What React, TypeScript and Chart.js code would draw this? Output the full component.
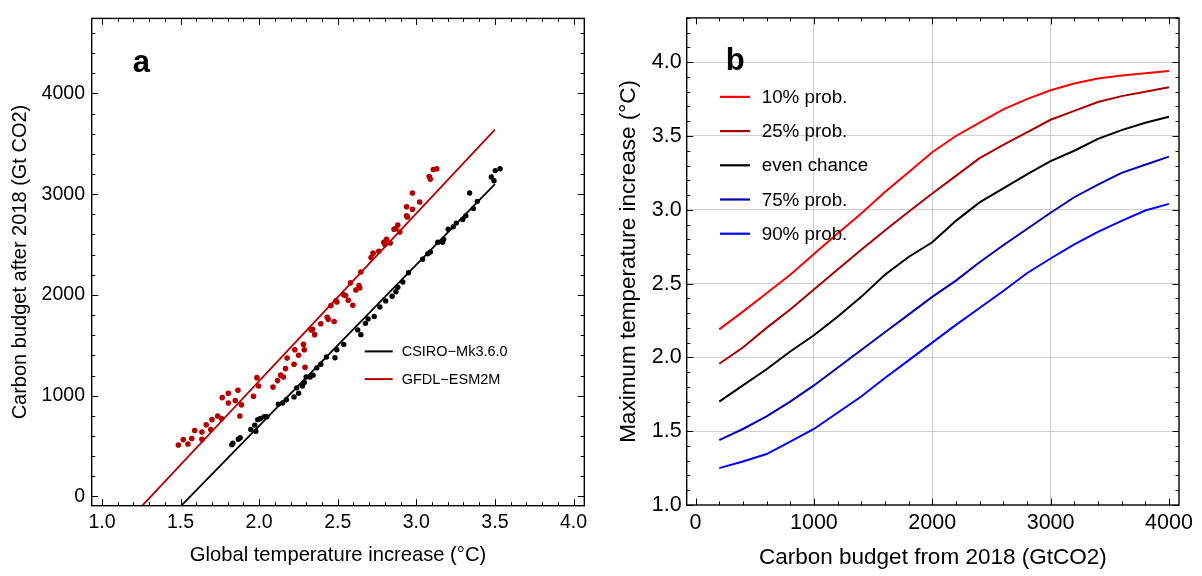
import React, { useEffect, useRef } from "react";
import { Chart, registerables } from "chart.js";

Chart.register(...registerables);

// ---------- Panel a data ----------
const CSIRO_T = [1.826, 1.833, 1.867, 1.879, 1.947, 1.972, 1.979, 1.991, 2.008, 2.032, 2.049, 2.122, 2.149, 2.173, 2.222, 2.239, 2.251, 2.275, 2.287, 2.299, 2.324, 2.343, 2.367, 2.392, 2.428, 2.482, 2.494, 2.538, 2.627, 2.647, 2.676, 2.693, 2.732, 2.768, 2.805, 2.846, 2.870, 2.882, 2.914, 2.950, 3.040, 3.072, 3.089, 3.137, 3.167, 3.174, 3.203, 3.235, 3.254, 3.295, 3.315, 3.339, 3.363, 3.388, 3.477, 3.494, 3.502, 3.533];
const CSIRO_B = [514, 528, 568, 582, 665, 708, 647, 762, 773, 791, 791, 916, 927, 960, 988, 1078, 1024, 1096, 1132, 1186, 1186, 1204, 1276, 1312, 1384, 1376, 1456, 1509, 1653, 1606, 1718, 1761, 1786, 1880, 1941, 1987, 2031, 2077, 2128, 2221, 2354, 2408, 2426, 2523, 2523, 2552, 2652, 2677, 2713, 2749, 2785, 3012, 2857, 2929, 3170, 3134, 3234, 3252];

const GFDL_T = [1.486, 1.517, 1.547, 1.571, 1.590, 1.636, 1.636, 1.663, 1.692, 1.700, 1.736, 1.760, 1.765, 1.804, 1.804, 1.848, 1.865, 1.877, 1.887, 1.964, 1.986, 1.996, 2.088, 2.117, 2.137, 2.154, 2.168, 2.178, 2.222, 2.227, 2.251, 2.282, 2.287, 2.292, 2.331, 2.340, 2.353, 2.392, 2.433, 2.440, 2.457, 2.477, 2.489, 2.495, 2.538, 2.550, 2.567, 2.581, 2.596, 2.615, 2.635, 2.640, 2.647, 2.712, 2.725, 2.761, 2.793, 2.800, 2.810, 2.834, 2.858, 2.870, 2.882, 2.895, 2.938, 2.943, 2.938, 2.975, 2.975, 3.021, 3.082, 3.089, 3.108, 3.130];
const GFDL_B = [510, 564, 521, 575, 654, 568, 640, 712, 665, 762, 798, 773, 981, 1024, 927, 952, 1053, 798, 909, 995, 1179, 1096, 1085, 1150, 1204, 1186, 1269, 1373, 1312, 1456, 1402, 1509, 1456, 1283, 1653, 1660, 1606, 1714, 1779, 1759, 1894, 1736, 1941, 1930, 2002, 1995, 1948, 2120, 1898, 2049, 2092, 2070, 2228, 2372, 2415, 2433, 2523, 2500, 2552, 2516, 2652, 2660, 2695, 2624, 2785, 2774, 2875, 3012, 2850, 2922, 3175, 3150, 3245, 3252];

const CSIRO_FIT_T = [1.45, 3.5];
const CSIRO_FIT_B = [-179, 3099];
const GFDL_FIT_T = [1.2, 3.5];
const GFDL_FIT_B = [-185, 3640];

const A_X_TICKS = [1.0, 1.5, 2.0, 2.5, 3.0, 3.5, 4.0];
const A_Y_TICKS = [0, 1000, 2000, 3000, 4000];

// ---------- Panel b data ----------
const BUDGET = [200, 400, 600, 800, 1000, 1200, 1400, 1600, 1800, 2000, 2200, 2400, 2600, 2800, 3000, 3200, 3400, 3600, 3800, 4000];
const P10 = [2.19, 2.31, 2.435, 2.56, 2.70, 2.84, 2.975, 3.12, 3.255, 3.39, 3.50, 3.59, 3.68, 3.75, 3.81, 3.855, 3.89, 3.91, 3.925, 3.94];
const P25 = [1.957, 2.067, 2.20, 2.325, 2.46, 2.595, 2.73, 2.86, 2.987, 3.11, 3.23, 3.35, 3.44, 3.525, 3.61, 3.67, 3.73, 3.77, 3.80, 3.83];
const P50 = [1.70, 1.81, 1.92, 2.04, 2.15, 2.275, 2.41, 2.56, 2.68, 2.78, 2.925, 3.05, 3.145, 3.24, 3.33, 3.40, 3.48, 3.54, 3.59, 3.63];
const P75 = [1.44, 1.515, 1.60, 1.70, 1.81, 1.93, 2.05, 2.17, 2.29, 2.41, 2.52, 2.645, 2.76, 2.87, 2.98, 3.085, 3.17, 3.25, 3.305, 3.36];
const P90 = [1.25, 1.295, 1.345, 1.43, 1.515, 1.625, 1.735, 1.86, 1.98, 2.10, 2.22, 2.335, 2.45, 2.57, 2.67, 2.765, 2.85, 2.925, 2.995, 3.04];

const B_X_TICKS = [0, 1000, 2000, 3000, 4000];
const B_Y_TICKS = [1.0, 1.5, 2.0, 2.5, 3.0, 3.5, 4.0];

const FONT = "'Liberation Sans', Arial, Helvetica, sans-serif";

const pts = (xs: number[], ys: number[]) => xs.map((x, i) => ({ x, y: ys[i] }));

const framePlugin = {
  id: "frameTicks",
  afterDraw(chart: any, _args: any, opts: any) {
    const { ctx, chartArea } = chart;
    const { left, right, top, bottom } = chartArea;
    const xs = chart.scales.x;
    const ys = chart.scales.y;
    ctx.save();
    ctx.strokeStyle = "#000";
    ctx.lineWidth = 1;
    const majorLen = 6.5;
    const minorLen = 3.5;
    const isMajor = (v: number, majors: number[]) => majors.some((m) => Math.abs(m - v) < 1e-6);
    const x0 = Math.ceil((xs.min - 1e-9) / opts.xMinor) * opts.xMinor;
    for (let v = x0; v <= xs.max + 1e-9; v += opts.xMinor) {
      const vv = Math.round(v / opts.xMinor) * opts.xMinor;
      const p = Math.round(xs.getPixelForValue(vv)) + 0.5;
      const len = isMajor(vv, opts.xMajor) ? majorLen : minorLen;
      ctx.beginPath();
      ctx.moveTo(p, bottom);
      ctx.lineTo(p, bottom - len);
      ctx.moveTo(p, top);
      ctx.lineTo(p, top + len);
      ctx.stroke();
    }
    const y0 = Math.ceil((ys.min - 1e-9) / opts.yMinor) * opts.yMinor;
    for (let v = y0; v <= ys.max + 1e-9; v += opts.yMinor) {
      const vv = Math.round(v / opts.yMinor) * opts.yMinor;
      const p = Math.round(ys.getPixelForValue(vv)) + 0.5;
      const len = isMajor(vv, opts.yMajor) ? majorLen : minorLen;
      ctx.beginPath();
      ctx.moveTo(left, p);
      ctx.lineTo(left + len, p);
      ctx.moveTo(right, p);
      ctx.lineTo(right - len, p);
      ctx.stroke();
    }
    ctx.lineWidth = 1.4;
    ctx.strokeRect(left, top, right - left, bottom - top);

    ctx.fillStyle = "#000";
    ctx.font = `bold ${opts.letterSize}px ${FONT}`;
    ctx.textAlign = "left";
    ctx.textBaseline = "alphabetic";
    ctx.fillText(opts.letter, left + opts.letterDx, top + opts.letterDy);

    const lg = opts.legend;
    ctx.font = `${lg.size}px ${FONT}`;
    ctx.textBaseline = "middle";
    let row = 0;
    chart.data.datasets.forEach((ds: any) => {
      if (!ds.inLegend) return;
      const yy = top + lg.dy + row * lg.step;
      ctx.strokeStyle = ds.borderColor;
      ctx.lineWidth = lg.lineWidth;
      ctx.beginPath();
      ctx.moveTo(left + lg.x1, yy);
      ctx.lineTo(left + lg.x2, yy);
      ctx.stroke();
      ctx.fillStyle = "#000";
      ctx.fillText(ds.label, left + lg.tx, yy + 1);
      row++;
    });
    ctx.restore();
  },
};

function PanelA() {
  const ref = useRef<HTMLCanvasElement>(null);
  useEffect(() => {
    const chart = new Chart(ref.current as HTMLCanvasElement, {
      type: "scatter",
      data: {
        datasets: [
          { label: "CSIRO points", data: pts(CSIRO_T, CSIRO_B), backgroundColor: "#000", borderColor: "#000", pointRadius: 2.7, pointBorderWidth: 0, showLine: false } as any,
          { label: "GFDL points", data: pts(GFDL_T, GFDL_B), backgroundColor: "#b40000", borderColor: "#b40000", pointRadius: 2.8, pointBorderWidth: 0, showLine: false } as any,
          { label: "CSIRO\u2212Mk3.6.0", inLegend: true, data: pts(CSIRO_FIT_T, CSIRO_FIT_B), borderColor: "#000", borderWidth: 1.8, pointRadius: 0, showLine: true } as any,
          { label: "GFDL\u2212ESM2M", inLegend: true, data: pts(GFDL_FIT_T, GFDL_FIT_B), borderColor: "#b40000", borderWidth: 1.8, pointRadius: 0, showLine: true } as any,
        ],
      },
      options: {
        animation: false,
        responsive: false,
        events: [],
        layout: { padding: { left: 0, right: 15.7, top: 11, bottom: 0 } },
        plugins: {
          legend: { display: false },
          tooltip: { enabled: false },
          frameTicks: {
            xMinor: 0.1, yMinor: 200, xMajor: A_X_TICKS, yMajor: A_Y_TICKS,
            letter: "a", letterSize: 31, letterDx: 41, letterDy: 54,
            legend: { size: 14.5, dy: 333, step: 27.7, x1: 273, x2: 301, tx: 310, lineWidth: 2 },
          },
        } as any,
        scales: {
          x: {
            type: "linear",
            min: 0.9345,
            max: 4.0687,
            afterFit: (s: any) => { s.height = 70.3; },
            afterBuildTicks: (s: any) => { s.ticks = A_X_TICKS.map((v) => ({ value: v })); },
            grid: { display: false, drawTicks: false },
            border: { display: false },
            ticks: { font: { family: FONT, size: 19.5 }, color: "#000", padding: 5.6, maxRotation: 0, autoSkip: false, callback: (v: any) => Number(v).toFixed(1) },
            title: { display: true, text: "Global temperature increase (°C)", font: { family: FONT, size: 20.2 }, color: "#000", padding: { top: 0, bottom: 8 } },
          },
          y: {
            type: "linear",
            min: -92,
            max: 4745,
            afterFit: (s: any) => { s.width = 91.7; },
            afterBuildTicks: (s: any) => { s.ticks = A_Y_TICKS.map((v) => ({ value: v })); },
            grid: { display: false, drawTicks: false },
            border: { display: false },
            ticks: { font: { family: FONT, size: 19.5 }, color: "#000", padding: 6.7, autoSkip: false, callback: (v: any) => String(v) },
            title: { display: true, text: "Carbon budget after 2018 (Gt CO2)", font: { family: FONT, size: 20 }, color: "#000", padding: { top: 8.3, bottom: 0 } },
          },
        },
      } as any,
      plugins: [framePlugin],
    });
    return () => chart.destroy();
  }, []);
  return <canvas ref={ref} width={600} height={576} style={{ display: "block" }} />;
}

function PanelB() {
  const ref = useRef<HTMLCanvasElement>(null);
  useEffect(() => {
    const line = (label: string, ys: number[], color: string) =>
      ({ label, inLegend: true, data: pts(BUDGET, ys), borderColor: color, backgroundColor: color, borderWidth: 2, pointRadius: 0, showLine: true, tension: 0 } as any);
    const gridColor = "#cfcfcf";
    const chart = new Chart(ref.current as HTMLCanvasElement, {
      type: "scatter",
      data: {
        datasets: [
          line("10% prob.", P10, "#ff0000"),
          line("25% prob.", P25, "#a80000"),
          line("even chance", P50, "#000000"),
          line("75% prob.", P75, "#0000b4"),
          line("90% prob.", P90, "#0000ff"),
        ],
      },
      options: {
        animation: false,
        responsive: false,
        events: [],
        layout: { padding: { left: 0, right: 23, top: 11, bottom: 0 } },
        plugins: {
          legend: { display: false },
          tooltip: { enabled: false },
          frameTicks: {
            xMinor: 200, yMinor: 0.1, xMajor: B_X_TICKS, yMajor: B_Y_TICKS,
            letter: "b", letterSize: 31, letterDx: 39, letterDy: 52,
            legend: { size: 18.8, dy: 79, step: 34.2, x1: 33.3, x2: 63.3, tx: 75, lineWidth: 2.2 },
          },
        } as any,
        scales: {
          x: {
            type: "linear",
            min: -75,
            max: 4085,
            afterFit: (s: any) => { s.height = 71; },
            afterBuildTicks: (s: any) => { s.ticks = B_X_TICKS.map((v) => ({ value: v })); },
            grid: {
              drawTicks: false,
              lineWidth: 1,
              color: (c: any) => (c.tick && c.tick.value > 0 && c.tick.value < 4000 ? gridColor : "rgba(0,0,0,0)"),
            },
            border: { display: false },
            ticks: { font: { family: FONT, size: 21.5 }, color: "#000", padding: 5.4, maxRotation: 0, autoSkip: false, callback: (v: any) => String(v) },
            title: { display: true, text: "Carbon budget from 2018 (GtCO2)", font: { family: FONT, size: 22.5 }, color: "#000", padding: { top: 0, bottom: 4.8 } },
          },
          y: {
            type: "linear",
            min: 1.0,
            max: 4.3,
            afterFit: (s: any) => { s.width = 86.7; },
            afterBuildTicks: (s: any) => { s.ticks = B_Y_TICKS.map((v) => ({ value: v })); },
            grid: {
              drawTicks: false,
              lineWidth: 1,
              color: (c: any) => (c.tick && c.tick.value > 1.0 ? gridColor : "rgba(0,0,0,0)"),
            },
            border: { display: false },
            ticks: { font: { family: FONT, size: 21.5 }, color: "#000", padding: 5, autoSkip: false, callback: (v: any) => Number(v).toFixed(1) },
            title: { display: true, text: "Maximum temperature increase (°C)", font: { family: FONT, size: 22.5 }, color: "#000", padding: { top: 15.3, bottom: 0 } },
          },
        },
      } as any,
      plugins: [framePlugin],
    });
    return () => chart.destroy();
  }, []);
  return <canvas ref={ref} width={602} height={576} style={{ display: "block" }} />;
}

export default function App() {
  return (
    <div style={{ position: "absolute", left: 0, top: 0, width: 1202, height: 576, background: "#fff" }}>
      <div style={{ position: "absolute", left: 0, top: 0, width: 600, height: 576 }}>
        <PanelA />
      </div>
      <div style={{ position: "absolute", left: 600, top: 0, width: 602, height: 576 }}>
        <PanelB />
      </div>
    </div>
  );
}
